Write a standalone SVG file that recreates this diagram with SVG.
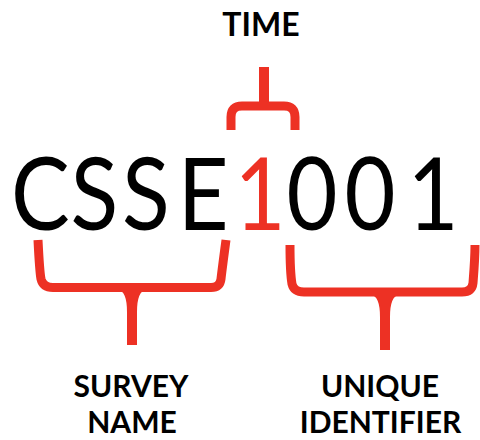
<svg xmlns="http://www.w3.org/2000/svg" width="480" height="440" viewBox="0 0 480 440">
<style>
.lbl{font-family:Lato,"Open Sans","Liberation Sans",sans-serif;font-weight:bold;fill:#000;text-anchor:middle}
.code{font-family:Lato,"Liberation Sans",sans-serif;font-size:100px;text-anchor:middle;fill:#000}
.red{fill:#ED3124}
.brace{fill:none;stroke:#ED3124;stroke-width:9;stroke-linecap:butt;stroke-linejoin:round}
.fill{fill:#ED3124}
</style>
<rect width="480" height="440" fill="#fff"/>
<g id="code">
<text class="code" y="230" transform="scale(0.88,1)"><tspan x="46">C</tspan><tspan x="107.4">S</tspan><tspan x="165.9">S</tspan><tspan x="231">E</tspan><tspan x="295.5" class="red">1</tspan><tspan x="354.5">0</tspan><tspan x="420.5">0</tspan><tspan x="492">1</tspan></text>
</g>
<g id="connectors">
<g id="brace-time">
<path class="brace" d="M231,130 L231,117 Q231,106 242,106 H284 Q295,106 295,117 L295,130"/>
<rect class="fill" x="259" y="67" width="10" height="40"/>
</g>
<g id="brace-survey">
<path class="brace" d="M38,240 C39,260 40,274 41,279 Q43,287.5 53,287.5 H211 Q220,287.5 221,279 C222,270 224,255 226,240"/>
<path class="fill" d="M118,290 Q127,291 127,312 L127,345 L137,345 L137,312 Q137,291 146,290 Z"/>
</g>
<g id="brace-unique">
<path class="brace" d="M290,245 C290,264 291,278 292,284 Q294,292 304,292 H462 Q472,292 473,283 C474,270 475,258 475,245"/>
<path class="fill" d="M371,295 Q380,296 380,317 L380,350 L390,350 L390,317 Q390,296 399,295 Z"/>
</g>
</g>
<g id="label-time"><text class="lbl" x="261" y="36" font-size="32">TIME</text></g>
<g id="label-survey"><text class="lbl" x="131" y="397" font-size="30">SURVEY</text><text class="lbl" x="132" y="433" font-size="30">NAME</text></g>
<g id="label-unique"><text class="lbl" x="380" y="397" font-size="30">UNIQUE</text><text class="lbl" x="380.5" y="433" font-size="30">IDENTIFIER</text></g>
</svg>
